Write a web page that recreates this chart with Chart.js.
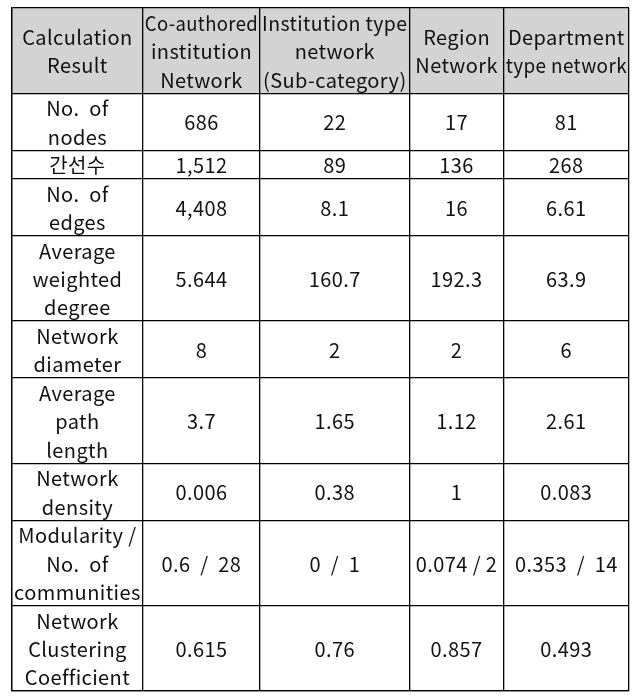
<!DOCTYPE html>
<html>
<head>
<meta charset="utf-8">
<script src="https://cdn.jsdelivr.net/npm/chart.js@4.4.1/dist/chart.umd.min.js"></script>
<style>
html,body{margin:0;padding:0;background:#fff;}
#wrap{width:639px;height:698px;}
</style>
</head>
<body>
<div id="wrap"><canvas id="c" width="639" height="698"></canvas></div>
<script>
// ---- data ----
const columns = ["Calculation\nResult", "Co-authored\ninstitution\nNetwork", "Institution type\nnetwork\n(Sub-category)", "Region\nNetwork", "Department\ntype network"];
const metrics = ["No.  of\nnodes", "간선수", "No.  of\nedges", "Average\nweighted\ndegree", "Network\ndiameter", "Average\npath\nlength", "Network\ndensity", "Modularity /\nNo.  of\ncommunities", "Network\nClustering\nCoefficient"];
const coauthored = ["686", "1,512", "4,408", "5.644", "8", "3.7", "0.006", "0.6  /  28", "0.615"];
const institutionType = ["22", "89", "8.1", "160.7", "2", "1.65", "0.38", "0  /  1", "0.76"];
const region = ["17", "136", "16", "192.3", "2", "1.12", "1", "0.074 / 2", "0.857"];
const department = ["81", "268", "6.61", "63.9", "6", "2.61", "0.083", "0.353  /  14", "0.493"];

// ---- layout (not data) ----
const colWidths = [130.5, 117, 149, 94, 125];
const headerLines = 3;
const rowLines = metrics.map(m => m.split("\n").length);

const colBounds = [0];
colWidths.forEach(w => colBounds.push(colBounds[colBounds.length - 1] + w));
const rowBounds = [0, headerLines];
rowLines.forEach(n => rowBounds.push(rowBounds[rowBounds.length - 1] + n));
const totalX = colBounds[colBounds.length - 1];
const totalY = rowBounds[rowBounds.length - 1];

const seriesCols = [metrics, coauthored, institutionType, region, department];
const cells = [];
columns.forEach((h, c) => {
  cells.push({x: (colBounds[c] + colBounds[c + 1]) / 2, y: (rowBounds[0] + rowBounds[1]) / 2, text: h, col: c});
});
metrics.forEach((m, r) => {
  seriesCols.forEach((arr, c) => {
    cells.push({x: (colBounds[c] + colBounds[c + 1]) / 2, y: (rowBounds[r + 1] + rowBounds[r + 2]) / 2, text: arr[r], col: c});
  });
});

const FONT = '20px "Noto Sans CJK KR", "Noto Sans", sans-serif';
const LINE_H = 28.4;

const headerBg = {
  id: 'headerBg',
  beforeDraw(chart) {
    const {ctx, scales: {x, y}} = chart;
    ctx.save();
    ctx.fillStyle = '#d3d3d3';
    const top = y.getPixelForValue(rowBounds[0]);
    const bot = y.getPixelForValue(rowBounds[1]);
    const l = x.getPixelForValue(0), r = x.getPixelForValue(totalX);
    ctx.fillRect(l, top, r - l, bot - top);
    ctx.restore();
  }
};

const cellText = {
  id: 'cellText',
  afterDatasetsDraw(chart) {
    const {ctx, scales: {x}} = chart;
    const meta = chart.getDatasetMeta(0);
    const data = chart.data.datasets[0].data;
    ctx.save();
    ctx.font = FONT;
    if ('letterSpacing' in ctx) ctx.letterSpacing = '0.4px';
    ctx.fillStyle = '#111';
    ctx.textAlign = 'center';
    ctx.textBaseline = 'middle';
    meta.data.forEach((el, i) => {
      const d = data[i];
      const lines = d.text.split("\n");
      const w = x.getPixelForValue(colBounds[d.col + 1]) - x.getPixelForValue(colBounds[d.col]) - 4;
      const y0 = el.y - (lines.length - 1) * LINE_H / 2;
      lines.forEach((ln, k) => {
        ctx.fillText(ln, el.x, y0 + k * LINE_H + 1, w);
      });
    });
    ctx.restore();
  }
};

new Chart(document.getElementById('c'), {
  type: 'scatter',
  data: {datasets: [{data: cells, pointRadius: 0, pointHoverRadius: 0}]},
  options: {
    responsive: false,
    animation: false,
    events: [],
    layout: {padding: {left: 12, top: 8, right: 10, bottom: 7}},
    plugins: {legend: {display: false}, tooltip: {enabled: false}},
    scales: {
      x: {
        type: 'linear', min: 0, max: totalX,
        afterBuildTicks: s => { s.ticks = colBounds.map(v => ({value: v})); },
        ticks: {display: false},
        grid: {color: '#000', lineWidth: 1.3, drawTicks: false},
        border: {display: true, color: '#000', width: 1.3}
      },
      y: {
        type: 'linear', min: 0, max: totalY, reverse: true,
        afterBuildTicks: s => { s.ticks = rowBounds.map(v => ({value: v})); },
        ticks: {display: false},
        grid: {color: '#000', lineWidth: 1.3, drawTicks: false},
        border: {display: true, color: '#000', width: 1.3}
      }
    }
  },
  plugins: [headerBg, cellText]
});
</script>
</body>
</html>
